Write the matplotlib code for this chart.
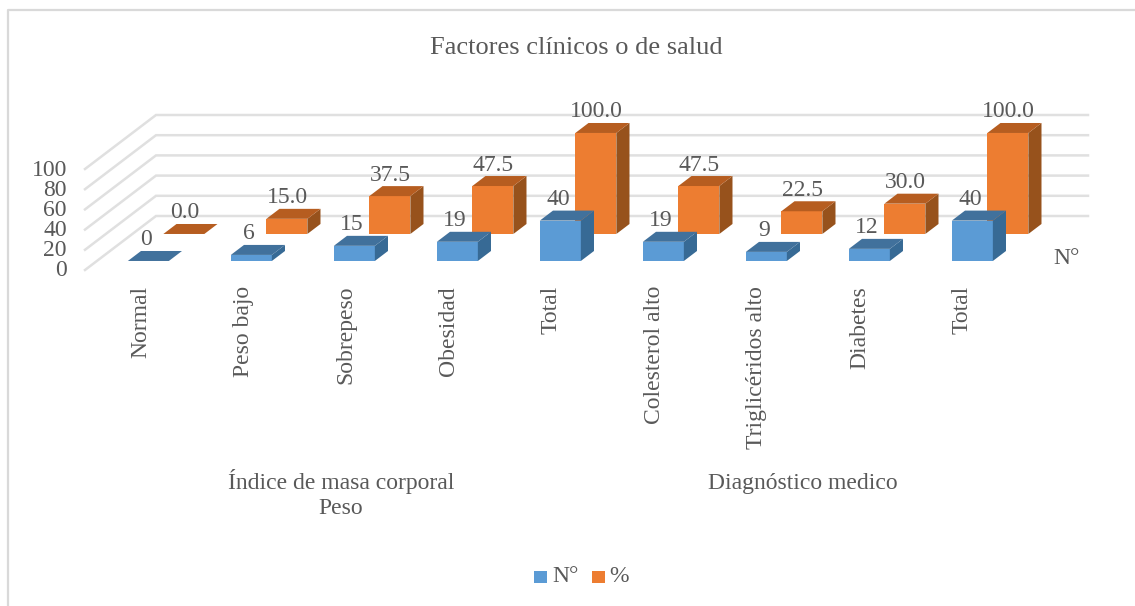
import matplotlib
matplotlib.use('Agg')
import matplotlib.pyplot as plt
from matplotlib.patches import Polygon, Rectangle

plt.rcParams['font.family'] = ['Liberation Serif']

# Data
categories = ['Normal', 'Peso bajo', 'Sobrepeso', 'Obesidad', 'Total',
              'Colesterol alto', 'Triglicéridos alto', 'Diabetes', 'Total']
n_values = [0, 6, 15, 19, 40, 19, 9, 12, 40]
pct_values = [0.0, 15.0, 37.5, 47.5, 100.0, 47.5, 22.5, 30.0, 100.0]
y_ticks = [0, 20, 40, 60, 80, 100]
title = 'Factores clínicos o de salud'

TEXT = '#595959'
GRID = '#d9d9d9'
BLUE = ('#5b9bd5', '#41719c', '#376a95')
ORANGE = ('#ed7d31', '#b65d20', '#97521c')
FS = 17

# oblique projection of the 3D chart onto pixels
X0, Y0 = 85, 270
DX, DY = 71, 54
SCALE = 1.01
FLOOR_W = 932


def proj(x, depth, val):
    return (X0 + x + DX * depth, Y0 - val * SCALE - DY * depth)


def bar3d(ax, x, depth, val, colors, w=41, d=0.185):
    front = [proj(x, depth, 0), proj(x + w, depth, 0), proj(x + w, depth, val), proj(x, depth, val)]
    top = [proj(x, depth, val), proj(x + w, depth, val), proj(x + w, depth + d, val), proj(x, depth + d, val)]
    side = [proj(x + w, depth, 0), proj(x + w, depth + d, 0), proj(x + w, depth + d, val), proj(x + w, depth, val)]
    ax.add_patch(Polygon(front, fc=colors[0], ec='none', zorder=3))
    ax.add_patch(Polygon(side, fc=colors[2], ec='none', zorder=3))
    ax.add_patch(Polygon(top, fc=colors[1], ec='none', zorder=3))


fig = plt.figure(figsize=(11.35, 6.06), dpi=100)
ax = fig.add_axes([0, 0, 1, 1])
ax.set_xlim(0, 1135)
ax.set_ylim(606, 0)
ax.axis('off')

# chart frame, only left and top are inside the picture
ax.plot([7.5, 7.5, 1135], [605, 9.5, 9.5], color=GRID, lw=1.6)

# gridlines
for t in y_ticks:
    x1, y1 = proj(0, 0, t)
    x2, y2 = proj(0, 1, t)
    x3, y3 = proj(FLOOR_W, 1, t)
    ax.plot([x1, x2, x3], [y1, y2, y3], color='#e0e0e0', lw=1.8, solid_joinstyle='miter', zorder=1)
    ax.text(x1 - 18, y1 + 1, str(t), ha='right', va='center', fontsize=FS, color=TEXT)

# bars, back row first
for i, v in enumerate(pct_values):
    x = 31 + 103 * i
    bar3d(ax, x, 0.667, v, ORANGE)
    px, py = proj(x, 0.667 + 0.185, v)
    ax.text(px + 8, py - 11, f'{v:.1f}', ha='center', va='center', fontsize=FS, color=TEXT, zorder=4)
for i, v in enumerate(n_values):
    x = 31 + 103 * i
    bar3d(ax, x, 0.167, v, BLUE)
    px, py = proj(x, 0.167 + 0.185, v)
    ax.text(px + 5, py - 11, str(v), ha='center', va='center', fontsize=FS, color=TEXT, zorder=4)

# category labels
for i, c in enumerate(categories):
    ax.text(140.5 + 102.7 * i, 286, c, rotation=90, ha='center', va='top', fontsize=FS, color=TEXT)

ax.text(341, 482, 'Índice de masa corporal', ha='center', va='center', fontsize=FS, color=TEXT)
ax.text(803, 483, 'Diagnóstico medico', ha='center', va='center', fontsize=FS, color=TEXT)
ax.text(341, 509, 'Peso', ha='center', va='center', fontsize=FS, color=TEXT)
ax.text(1067, 258, 'N°', ha='center', va='center', fontsize=FS, color=TEXT)
ax.text(576, 48, title, ha='center', va='center', fontsize=19, color=TEXT)

# legend
ax.add_patch(Rectangle((534, 570.5), 13, 12.5, fc=BLUE[0], ec='none'))
ax.text(552, 577, 'N°', ha='left', va='center', fontsize=FS, color=TEXT)
ax.add_patch(Rectangle((592, 570.5), 13, 12.5, fc=ORANGE[0], ec='none'))
ax.text(609, 577, '%', ha='left', va='center', fontsize=FS, color=TEXT)

fig.savefig('out.png', dpi=100)
